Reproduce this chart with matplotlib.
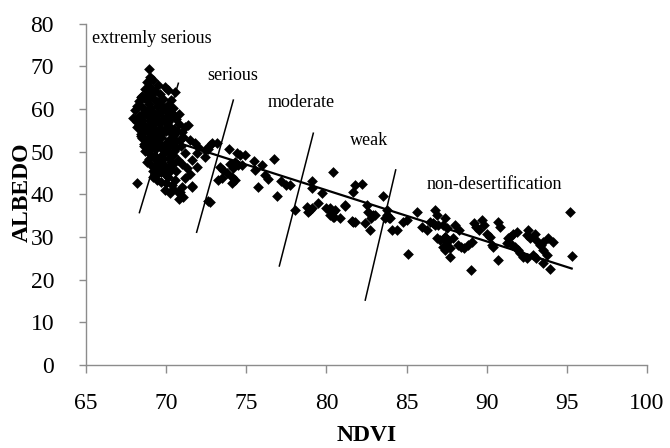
import matplotlib
matplotlib.use("Agg")
import matplotlib.pyplot as plt
import numpy as np

plt.rcParams['font.family'] = ['Liberation Serif', 'DejaVu Serif']

# NDVI / ALBEDO sample points
ndvi = [
    # dense cluster, extremely serious zone
    68.9, 69.0, 68.8, 69.2,
    68.7, 69.0, 69.3, 69.5, 69.9, 68.9, 69.6, 70.1, 70.55,
    68.3, 68.6, 68.9, 69.2, 69.5, 69.8, 70.1, 68.5, 69.0, 69.4, 69.9, 70.3,
    68.06, 68.3, 68.6, 68.9, 69.1, 69.4, 69.7, 70.0, 70.3, 68.5, 69.0, 69.5, 70.2, 70.5, 67.95,
    68.16, 68.4, 68.7, 69.0, 69.3, 69.6, 69.9, 70.2, 70.5, 70.8, 71.18, 71.38, 68.4, 68.9, 69.4, 69.8, 70.3, 71.0,
    68.5, 68.8, 69.1, 69.4, 69.7, 70.0, 70.3, 70.6, 71.07, 71.49, 71.8, 68.6, 69.2, 69.8, 70.4, 70.9, 72.0,
    68.7, 69.0, 69.3, 69.6, 69.9, 70.2, 70.5, 70.76, 71.2, 71.59, 71.9, 72.42, 72.42, 68.9, 69.4,
    69.1, 69.5, 69.8, 70.1, 70.4, 70.97, 71.3, 71.9, 69.7, 70.6,
    69.51, 70.13, 70.55, 70.35, 70.97, 70.76, 71.07, 71.59, 68.16, 69.2, 69.93, 70.24,
    72.6, 71.6, 70.86,
    68.5, 68.8, 69.1, 69.4, 69.7, 70.0, 68.6, 68.9, 69.2, 69.5, 69.8, 70.1,
    68.7, 69.0, 69.3, 69.6, 69.9, 68.4, 68.8, 69.2, 69.6, 70.0, 70.4,
    68.6, 69.0, 69.4, 69.8, 70.2, 68.8, 69.3, 69.8, 70.3,
    70.4, 70.6, 70.8, 70.5, 70.7, 70.9, 70.4, 70.6, 68.2, 68.3, 68.5, 68.2, 68.4,
    69.0, 69.3, 69.6, 69.9, 70.2, 69.2, 69.5, 69.8, 70.0, 70.3,
    69.4, 69.7, 70.0, 70.4, 71.2, 71.5, 70.8,
    # serious zone
    72.74, 72.84, 72.6, 73.92, 74.6, 74.9, 73.36, 73.57, 73.78, 73.25, 73.46,
    73.98, 74.19, 74.29, 74.5, 74.09, 74.3, 74.09, 74.71, 75.5, 75.54, 75.96,
    76.17, 76.38, 76.75, 75.75, 76.9, 77.16, 77.5, 77.7, 72.74, 73.15, 74.4,
    # moderate zone
    79.07, 79.1, 79.7, 78.04, 78.76, 78.97, 78.87, 79.08, 79.5, 80.2, 80.4,
    80.43, 81.78, 82.2, 81.67, 83.55, 80.53, 81.16, 80.3, 80.85, 81.66, 81.8,
    80.0, 80.2, 80.4, 80.5, 81.16, 81.58,
    # weak zone
    82.5, 82.6, 82.9, 82.4, 82.7, 83.76, 83.8, 83.9, 83.65, 84.07, 84.38,
    82.8, 83.0, 83.96,
    # non-desertification zone
    84.8, 85.0, 85.67, 85.94, 86.25, 85.1, 86.8, 86.9, 86.46, 86.67, 86.77, 86.98,
    86.88, 87.08, 87.4, 87.5, 87.3, 87.4,
    87.4, 87.3, 87.5, 88.02, 88.3, 87.4, 87.6, 87.9, 87.7,
    88.2, 88.4, 88.6, 88.85, 89.06, 87.7, 89.0,
    89.2, 89.3, 89.5, 89.7, 89.8, 90.0, 90.2, 90.4, 90.3, 90.7, 90.8, 90.7,
    91.35, 91.45, 91.66, 91.87, 91.24, 91.56, 91.76, 91.97, 92.07, 92.28, 92.5,
    92.5, 92.7, 92.6, 93.0, 93.1, 93.3, 93.5, 93.84, 93.74, 92.9, 93.1,
    95.2, 94.15, 95.3, 93.5, 93.4, 93.5, 93.95,
]
albedo = [
    69.3, 67.5, 66.4, 66.8,
    64.6, 65.1, 64.2, 65.6, 65.2, 63.4, 63.5, 64.4, 64.0,
    61.8, 62.5, 61.2, 62.6, 61.7, 62.4, 61.0, 60.4, 60.1, 60.6, 60.3, 62.0,
    59.7, 58.4, 59.3, 58.0, 59.5, 58.6, 59.2, 58.1, 59.0, 57.3, 57.1, 57.5, 57.3, 58.5, 57.8,
    55.8, 56.4, 55.1, 56.3, 55.0, 56.6, 55.4, 56.1, 55.2, 56.4, 55.8, 56.2, 54.2, 54.4, 54.0, 54.6, 54.3, 54.7,
    53.1, 52.2, 53.5, 52.6, 53.4, 52.1, 53.2, 52.4, 53.5, 52.7, 51.9, 51.4, 51.3, 51.0, 51.6, 51.2, 51.1,
    50.2, 49.4, 50.5, 48.7, 49.8, 48.5, 50.1, 48.0, 49.6, 48.0, 49.6, 50.4, 48.8, 48.2, 47.8,
    46.6, 45.8, 47.2, 46.2, 47.0, 47.2, 46.1, 46.4, 45.2, 45.5,
    44.9, 44.1, 43.3, 42.2, 41.8, 40.6, 39.4, 41.9, 42.6, 44.1, 41.0, 40.2,
    38.4, 41.8, 40.6,
    63.0, 62.0, 63.8, 61.5, 60.9, 59.8, 58.9, 59.9, 57.8, 59.0, 57.6, 56.9,
    56.0, 55.2, 56.8, 55.6, 57.0, 53.6, 53.0, 54.6, 53.1, 54.9, 52.8,
    51.8, 50.6, 52.0, 50.4, 49.8, 47.5, 48.9, 48.3, 47.6,
    60.2, 57.6, 58.8, 53.8, 54.8, 52.9, 49.2, 50.8, 57.0, 56.2, 54.6, 60.6, 62.9,
    52.8, 48.4, 51.8, 50.8, 51.2, 45.5, 47.0, 45.9, 44.6, 45.6,
    43.4, 42.8, 42.6, 41.2, 43.9, 44.8, 38.9,
    51.5, 51.9, 50.7, 50.5, 49.2, 49.2, 46.4, 45.7, 44.9, 43.3, 43.7,
    47.2, 46.1, 47.6, 46.8, 44.1, 43.3, 42.6, 46.8, 47.8, 45.7, 46.8,
    44.5, 43.5, 48.2, 41.8, 39.6, 43.2, 42.2, 42.2, 38.2, 51.9, 49.6,
    43.2, 41.4, 40.2, 36.3, 37.1, 36.3, 35.9, 36.7, 37.9, 36.7, 34.7,
    45.3, 42.2, 42.5, 40.6, 39.6, 36.3, 37.5, 35.8, 34.4, 33.6, 33.6,
    36.7, 35.1, 35.9, 34.7, 37.2, 33.8,
    37.5, 35.9, 35.1, 33.2, 31.6, 36.3, 35.1, 34.4, 34.4, 31.6, 31.6,
    34.4, 35.1, 34.4,
    33.6, 34.0, 35.9, 32.4, 31.6, 25.9, 36.3, 35.1, 33.6, 33.2, 32.8, 32.8,
    29.7, 29.3, 30.0, 28.9, 27.7, 26.9,
    34.4, 32.8, 32.0, 32.8, 31.6, 30.0, 29.3, 29.7, 27.3,
    28.1, 27.7, 27.3, 28.1, 28.9, 25.4, 22.2,
    33.2, 32.4, 31.6, 34.0, 32.8, 30.8, 30.0, 27.7, 28.1, 33.6, 32.4, 24.6,
    29.7, 30.0, 30.8, 31.2, 28.5, 28.1, 27.7, 26.9, 26.2, 25.4, 25.0,
    30.4, 29.7, 31.6, 30.8, 29.3, 28.1, 26.9, 29.7, 25.8, 25.8, 25.0,
    35.9, 28.9, 25.6, 28.9, 28.1, 24.0, 22.6,
]

# linear trend end points
trend_x = [68.2, 95.3]
trend_y = [55.1, 22.6]

# class boundary segments (x0, x1), (y0, y1)
bound_x = [(68.33, 70.76), (71.9, 74.19), (77.06, 79.18), (82.42, 84.32)]
bound_y = [(35.7, 66.0), (31.1, 62.06), (23.2, 54.3), (15.2, 45.7)]

zone_names = ["extremly serious", "serious", "moderate", "weak", "non-desertification"]
zone_x = [65.37, 72.55, 76.35, 81.47, 86.27]
zone_y = [76.6, 67.9, 61.4, 52.7, 42.2]

fig = plt.figure(figsize=(6.7, 4.48), dpi=100)
ax = fig.add_axes([0.1284, 0.1853, 0.8373, 0.7622])

ax.scatter(ndvi, albedo, marker='D', s=30, color='black', linewidths=0, zorder=3)
ax.plot(trend_x, trend_y, color='black', lw=1.6, zorder=4)
for bx, by in zip(bound_x, bound_y):
    ax.plot(bx, by, color='black', lw=1.1, zorder=4)

for name, tx, ty in zip(zone_names, zone_x, zone_y):
    ax.text(tx, ty, name, fontsize=13, ha='left', va='center')

ax.set_xlim(65, 100)
ax.set_ylim(0, 80)
ax.set_xticks(np.arange(65, 101, 5))
ax.set_yticks(np.arange(0, 81, 10))

for side in ['top', 'right']:
    ax.spines[side].set_visible(False)
for side in ['left', 'bottom']:
    ax.spines[side].set_color('#8c8c8c')
    ax.spines[side].set_linewidth(1.0)
ax.tick_params(axis='x', colors='#8c8c8c', labelcolor='black', labelsize=17,
               direction='out', length=6, width=1.0, pad=14)
ax.tick_params(axis='y', colors='#8c8c8c', labelcolor='black', labelsize=17,
               direction='out', length=5, width=1.0, pad=18)

fig.text(0.033, 0.57, "ALBEDO", rotation=90, fontsize=17, fontweight='bold',
         ha='center', va='center')
fig.text(0.548, 0.028, "NDVI", fontsize=17, fontweight='bold',
         ha='center', va='center')

fig.savefig("out.png", dpi=100)
